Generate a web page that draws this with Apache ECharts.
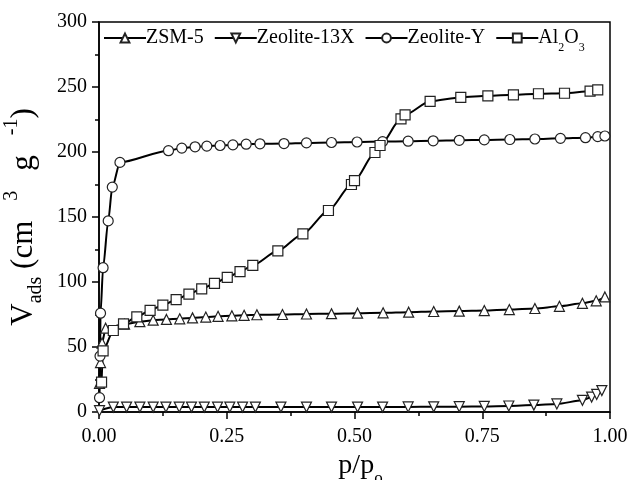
<!DOCTYPE html>
<html><head><meta charset="utf-8">
<script src="https://cdn.jsdelivr.net/npm/echarts@6/dist/echarts.min.js"></script>
<style>html,body{margin:0;padding:0;background:#fff}#c{width:629px;height:480px}</style>
</head><body><div id="c"></div>
<script>
const seriesNames = ['ZSM-5', 'Zeolite-13X', 'Zeolite-Y', 'Al2O3'];
const xTicks = [0, 0.25, 0.5, 0.75, 1.0];
const yTicks = [0, 50, 100, 150, 200, 250, 300];

const zsmX = [0.001, 0.003, 0.006, 0.013, 0.05, 0.08, 0.106, 0.132, 0.158, 0.183, 0.209, 0.233, 0.26, 0.284, 0.309, 0.359, 0.406, 0.455, 0.506, 0.556, 0.606, 0.655, 0.705, 0.754, 0.803, 0.853, 0.901, 0.946, 0.973, 0.99];
const zsmY = [22, 38, 53, 64.5, 67.5, 69.5, 70.6, 71.2, 71.7, 72.4, 73, 73.6, 74, 74.4, 74.8, 75, 75.4, 75.6, 76, 76.3, 76.8, 77.3, 77.6, 78, 78.8, 79.6, 81.3, 83.6, 85.5, 88.5];

const x13X = [0.001, 0.028, 0.054, 0.08, 0.106, 0.131, 0.157, 0.181, 0.206, 0.232, 0.256, 0.281, 0.306, 0.356, 0.406, 0.455, 0.506, 0.555, 0.605, 0.655, 0.705, 0.754, 0.802, 0.851, 0.896, 0.946, 0.964, 0.974, 0.984];
const y13X = [1, 3.8, 3.8, 3.8, 3.8, 3.8, 3.8, 3.8, 3.8, 3.8, 3.8, 3.8, 3.8, 3.8, 3.8, 3.8, 3.8, 3.8, 3.9, 4, 4.1, 4.3, 4.6, 5.3, 6.2, 9, 11.5, 13.5, 16.5];

const yzX = [0.001, 0.002, 0.003, 0.008, 0.018, 0.026, 0.041, 0.136, 0.162, 0.188, 0.211, 0.237, 0.262, 0.288, 0.315, 0.362, 0.406, 0.455, 0.505, 0.555, 0.605, 0.654, 0.705, 0.754, 0.804, 0.853, 0.903, 0.952, 0.976, 0.99];
const yzY = [11, 43, 76, 111, 147, 173, 192, 201, 203, 204, 204.5, 205, 205.5, 206, 206.3, 206.5, 207, 207.3, 207.7, 208, 208.3, 208.6, 209, 209.3, 209.6, 210, 210.5, 211, 211.8, 212.3];

const alX = [0.005, 0.008, 0.028, 0.048, 0.074, 0.1, 0.125, 0.151, 0.176, 0.201, 0.226, 0.251, 0.276, 0.301, 0.35, 0.399, 0.449, 0.494, 0.5, 0.54, 0.55, 0.591, 0.599, 0.648, 0.708, 0.761, 0.811, 0.86, 0.911, 0.961, 0.976];
const alY = [23, 47, 62.7, 67.8, 73.2, 78.2, 82.2, 86.4, 90.7, 94.7, 98.9, 103.5, 108, 112.8, 124, 137, 155, 175, 178, 199.6, 205, 225.5, 228.6, 239, 242, 243.2, 244, 244.8, 245.2, 246.8, 247.8];

const FONT = 'Liberation Serif';

function mk(name, xs, ys, symbol, rot) {
  return {
    type: 'line', name: name,
    data: xs.map((x, i) => [x, ys[i]]),
    symbol: symbol, symbolSize: 10, symbolRotate: rot || 0,
    smooth: 0.25, smoothMonotone: 'x', showAllSymbol: true,
    lineStyle: { color: '#000', width: 2 },
    itemStyle: { color: '#fff', borderColor: '#222', borderWidth: 1.2 },
    emphasis: { disabled: true }
  };
}

const chart = echarts.init(document.getElementById('c'), null, { renderer: 'canvas' });
chart.setOption({
  animation: false,
  backgroundColor: '#fff',
  grid: { left: 99, right: 19, top: 22, bottom: 68, show: true, borderColor: '#000', borderWidth: 1.5,
    containLabel: false, outerBoundsMode: 'none' },
  legend: {
    data: seriesNames, left: 103, top: 28, padding: 0,
    itemWidth: 42, itemHeight: 11, itemGap: 10,
    formatter: n => n === 'Al2O3' ? 'Al{sub|2}O{sub|3}' : n,
    textStyle: { fontFamily: FONT, fontSize: 20, color: '#000', padding: [0, 0, 0, -5],
      rich: { sub: { fontFamily: FONT, fontSize: 12, color: '#000', verticalAlign: 'bottom', lineHeight: 32 } } }
  },
  xAxis: {
    type: 'value', min: xTicks[0], max: xTicks[xTicks.length - 1], interval: 0.25,
    name: 'p/p{sub|o}', nameLocation: 'middle', nameGap: 24,
    nameTextStyle: { fontFamily: FONT, fontSize: 28, color: '#000', padding: [0, 0, 0, 12],
      rich: { sub: { fontFamily: FONT, fontSize: 17, color: '#000', verticalAlign: 'bottom', lineHeight: 42 } } },
    axisLine: { lineStyle: { color: '#000', width: 1.5 } },
    axisTick: { length: 7, lineStyle: { color: '#000', width: 1.5 } },
    minorTick: { show: true, splitNumber: 2, length: 4, lineStyle: { color: '#000', width: 1.5 } },
    splitLine: { show: false },
    axisLabel: { fontFamily: FONT, fontSize: 20, color: '#000', margin: 15, formatter: v => v.toFixed(2) }
  },
  yAxis: {
    type: 'value', min: yTicks[0], max: yTicks[yTicks.length - 1], interval: 50,
    name: 'V{sub|ads} (cm{gap| }{sup|3}{gap| }g{gap| }{sup|-1})', nameLocation: 'middle', nameGap: 42,
    nameTextStyle: { fontFamily: FONT, fontSize: 31, color: '#000',
      rich: {
        sub: { fontFamily: FONT, fontSize: 20, color: '#000', verticalAlign: 'bottom', lineHeight: 44 },
        sup: { fontFamily: FONT, fontSize: 20, color: '#000', verticalAlign: 'top', lineHeight: 44 },
        gap: { fontFamily: FONT, fontSize: 31, width: 20 }
      } },
    axisLine: { lineStyle: { color: '#000', width: 1.5 } },
    axisTick: { length: 7, lineStyle: { color: '#000', width: 1.5 } },
    minorTick: { show: true, splitNumber: 2, length: 4, lineStyle: { color: '#000', width: 1.5 } },
    splitLine: { show: false },
    axisLabel: { fontFamily: FONT, fontSize: 20, color: '#000', margin: 12 }
  },
  series: [
    mk(seriesNames[0], zsmX, zsmY, 'triangle', 0),
    mk(seriesNames[1], x13X, y13X, 'triangle', 180),
    mk(seriesNames[2], yzX, yzY, 'circle', 0),
    mk(seriesNames[3], alX, alY, 'rect', 0)
  ]
});
</script></body></html>
